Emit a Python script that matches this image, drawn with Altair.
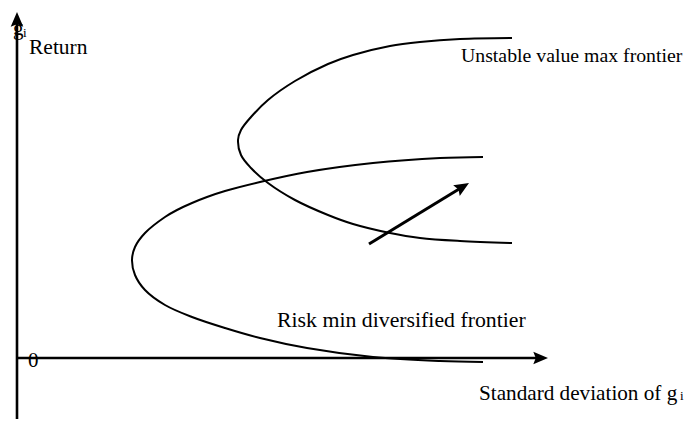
import math
import altair as alt
import pandas as pd

# ---- data (image pixel coordinates) ----
lower_x = [483, 440, 373, 307, 260, 225, 207, 192, 177, 165, 145, 135, 132, 135, 145, 165,
           192, 225, 260, 307, 373, 440, 483]
lower_y = [157, 158, 163, 172, 182, 191, 197, 203, 210, 217, 233, 247, 260, 275, 290, 305,
           317, 328, 338, 348, 357, 361, 362]
upper_x = [512, 460, 420, 390, 353, 328, 295, 268, 251, 241, 238, 241, 251, 268, 295, 328,
           353, 390, 420, 460, 512]
upper_y = [38, 39, 42, 46, 55, 64, 81, 100, 117, 130, 140, 155, 168, 183, 200, 215,
           224, 233, 238, 241, 243]

xaxis_x = [16, 542]
xaxis_y = [358, 358]
yaxis_x = [17, 17]
yaxis_y = [427, 18]
move_x = [369, 464]
move_y = [244, 186]

head_x = [548, 17, 469]
head_y = [358, 12, 183]
head_from_x = [16, 17, 369]
head_from_y = [358, 427, 244]

label_text = ["Return", "Unstable value max frontier", "Risk min diversified frontier",
              "Standard deviation of g", "0", "g"]
label_x = [29, 461, 277, 479, 28, 13]
label_y = [54, 62, 327, 400, 367, 35]
sub_text = ["i", "i"]
sub_x = [23, 680]
sub_y = [37, 400]

# styles (font sizes per label, matched to the reference widths)
LABEL_SIZE = [21.5, 19.8, 21.8, 21.2, 21, 21]
SUB_SIZE = 13
FONT = "Liberation Serif"
W, H = 677, 411
xs = alt.Scale(domain=[8, 8 + W], nice=False, zero=False)
ys = alt.Scale(domain=[8, 8 + H], nice=False, zero=False, reverse=True)


def line_layer(xv, yv, width):
    df = pd.DataFrame({"x": xv, "y": yv, "i": range(len(xv))})
    return alt.Chart(df).mark_line(
        color="black", strokeWidth=width, interpolate="catmull-rom", strokeCap="butt"
    ).encode(
        x=alt.X("x:Q", scale=xs, axis=None),
        y=alt.Y("y:Q", scale=ys, axis=None),
        order="i:Q",
    )


curves = line_layer(lower_x, lower_y, 2) + line_layer(upper_x, upper_y, 2)
axes_lines = line_layer(xaxis_x, xaxis_y, 2.6) + line_layer(yaxis_x, yaxis_y, 2.6)
move = line_layer(move_x, move_y, 3)

angles = [math.degrees(math.atan2(hx - fx, -(hy - fy)))
          for hx, hy, fx, fy in zip(head_x, head_y, head_from_x, head_from_y)]
heads_df = pd.DataFrame({"x": head_x, "y": head_y, "a": angles})
heads = alt.Chart(heads_df).mark_point(
    shape="M0,0L0.9,2.1L0,1.75L-0.9,2.1Z", filled=True, color="black",
    size=196, opacity=1, strokeWidth=0
).encode(
    x=alt.X("x:Q", scale=xs, axis=None),
    y=alt.Y("y:Q", scale=ys, axis=None),
    angle=alt.Angle("a:Q", scale=None),
)

label_layers = []
for t, x, y, s in zip(label_text, label_x, label_y, LABEL_SIZE):
    d = pd.DataFrame({"t": [t], "x": [x], "y": [y]})
    label_layers.append(alt.Chart(d).mark_text(
        font=FONT, fontSize=s, align="left", baseline="alphabetic", color="black"
    ).encode(
        x=alt.X("x:Q", scale=xs, axis=None),
        y=alt.Y("y:Q", scale=ys, axis=None),
        text="t:N",
    ))

subs_df = pd.DataFrame({"t": sub_text, "x": sub_x, "y": sub_y})
subs = alt.Chart(subs_df).mark_text(
    font=FONT, fontSize=SUB_SIZE, align="left", baseline="alphabetic", color="black"
).encode(
    x=alt.X("x:Q", scale=xs, axis=None),
    y=alt.Y("y:Q", scale=ys, axis=None),
    text="t:N",
)

chart = alt.layer(curves, axes_lines, move, heads, *label_layers, subs).properties(
    width=W, height=H, autosize=alt.AutoSizeParams(type="none"), padding=0,
    background="white"
).configure_view(stroke=None)

chart.save("out.html", embed_options={"renderer": "svg", "actions": False})
